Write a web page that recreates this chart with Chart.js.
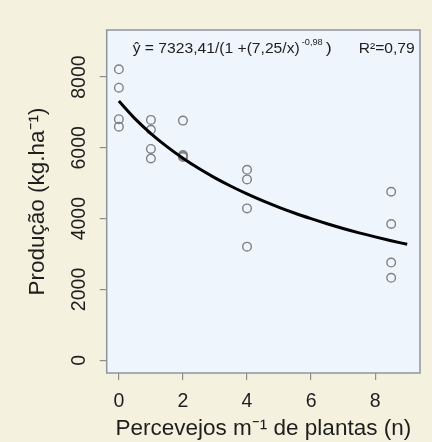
<!DOCTYPE html>
<html>
<head>
<meta charset="utf-8">
<script src="https://cdn.jsdelivr.net/npm/chart.js@4.4.1/dist/chart.umd.min.js"></script>
<style>
  html, body { margin: 0; padding: 0; background: #f4f2de; }
  canvas { display: block; }
</style>
</head>
<body>
<canvas id="myChart" width="432" height="442"></canvas>
<script>
// valores
var doses = [0, 0, 0, 0, 1, 1, 1, 1, 2, 2, 2, 2, 4, 4, 4, 4, 8.5, 8.5, 8.5, 8.5];
var producao = [8220, 7700, 6810, 6600, 6790, 6510, 5970, 5700, 6770, 5800, 5770, 5740, 5380, 5110, 4290, 3210, 4760, 3850, 2760, 2330];

// curva ajustada
var curvaX = [0, 0.5, 1, 1.5, 2, 2.5, 3, 3.5, 4, 4.5, 5, 5.5, 6, 6.5, 7, 7.5, 8, 8.5, 9];
var curvaY = [7323, 6827, 6405, 6035, 5708, 5416, 5153, 4916, 4700, 4502, 4321, 4154, 4001, 3857, 3724, 3600, 3485, 3376, 3275];

var xTicks = [0, 2, 4, 6, 8];
var yTicks = [0, 2000, 4000, 6000, 8000];

var equacao = 'ŷ = 7323,41/(1 +(7,25/x)';
var expoente = '-0,98';
var r2 = 'R²=0,79';

var fonte = '"Liberation Sans", Arial, Helvetica, sans-serif';

function textoLargura(ctx, s, x, y, w) {
  var m = ctx.measureText(s).width;
  ctx.save();
  ctx.translate(x, y);
  ctx.scale(w / m, 1);
  ctx.fillText(s, 0, 0);
  ctx.restore();
}

var moldura = {
  id: 'moldura',
  beforeDraw: function(chart) {
    var ctx = chart.ctx, a = chart.chartArea;
    ctx.save();
    ctx.fillStyle = '#f4f2de';
    ctx.fillRect(0, 0, chart.width, chart.height);
    ctx.fillStyle = '#eef5fd';
    ctx.fillRect(a.left, a.top, a.right - a.left, a.bottom - a.top);
    ctx.restore();
  },
  afterDraw: function(chart) {
    var ctx = chart.ctx, a = chart.chartArea;
    ctx.save();
    ctx.strokeStyle = '#8d96a0';
    ctx.lineWidth = 1.5;
    ctx.strokeRect(a.left, a.top, a.right - a.left, a.bottom - a.top);

    // equação
    ctx.fillStyle = '#1e1e1e';
    ctx.textBaseline = 'alphabetic';
    ctx.font = '14px ' + fonte;
    var y0 = a.top + 22.5;
    textoLargura(ctx, equacao, a.left + 26, y0, 167);
    textoLargura(ctx, ')', a.left + 219, y0, 6);
    textoLargura(ctx, r2, a.left + 252, y0, 56);
    ctx.font = '9px ' + fonte;
    textoLargura(ctx, expoente, a.left + 195, y0 - 8, 21);
    ctx.restore();
  }
};

var ctx = document.getElementById('myChart').getContext('2d');

var chart = new Chart(ctx, {
  data: {
    datasets: [{
      type: 'scatter',
      label: 'Observado',
      data: doses.map(function(d, i) { return {x: d, y: producao[i]}; }),
      pointStyle: 'circle',
      pointRadius: 4.3,
      pointBorderWidth: 1.4,
      pointBorderColor: '#808080',
      pointBackgroundColor: 'rgba(0,0,0,0)',
      order: 2
    }, {
      type: 'line',
      label: 'Ajustado',
      data: curvaX.map(function(d, i) { return {x: d, y: curvaY[i]}; }),
      borderColor: '#000000',
      borderWidth: 3,
      pointRadius: 0,
      fill: false,
      cubicInterpolationMode: 'monotone',
      order: 1
    }]
  },
  options: {
    responsive: false,
    animation: false,
    layout: {
      padding: { left: 0, top: 30, right: 12, bottom: 0 }
    },
    plugins: {
      legend: { display: false },
      tooltip: { enabled: false }
    },
    scales: {
      x: {
        type: 'linear',
        position: 'bottom',
        min: -0.38,
        max: 9.4,
        afterFit: function(s) { s.height = 69; },
        afterBuildTicks: function(s) { s.ticks = xTicks.map(function(v) { return {value: v}; }); },
        grid: { display: true, drawOnChartArea: false, drawTicks: true, tickLength: 7, color: '#8d8d8d', lineWidth: 1.2 },
        border: { display: false },
        ticks: { color: '#1e1e1e', padding: 10, font: { family: fonte, size: 19.5 },
          callback: function(v) { return String(v); } },
        title: {
          display: true,
          text: 'Percevejos m⁻¹ de plantas (n)',
          color: '#1e1e1e',
          font: { family: fonte, size: 22.5 },
          padding: { top: 0, bottom: 0 }
        }
      },
      y: {
        type: 'linear',
        position: 'left',
        min: -360,
        max: 9330,
        afterFit: function(s) { s.width = 106.7; },
        afterBuildTicks: function(s) { s.ticks = yTicks.map(function(v) { return {value: v}; }); },
        grid: { display: true, drawOnChartArea: false, drawTicks: true, tickLength: 7, color: '#8d8d8d', lineWidth: 1.2 },
        border: { display: false },
        ticks: { color: '#1e1e1e', padding: -2, minRotation: 90, maxRotation: 90, crossAlign: 'center', font: { family: fonte, size: 19.5 },
          callback: function(v) { return String(v); } },
        title: {
          display: true,
          text: 'Produção (kg.ha⁻¹)',
          color: '#1e1e1e',
          font: { family: fonte, size: 22.5 },
          padding: { top: 24, bottom: 0 }
        }
      }
    }
  },
  plugins: [moldura]
});
</script>
</body>
</html>
